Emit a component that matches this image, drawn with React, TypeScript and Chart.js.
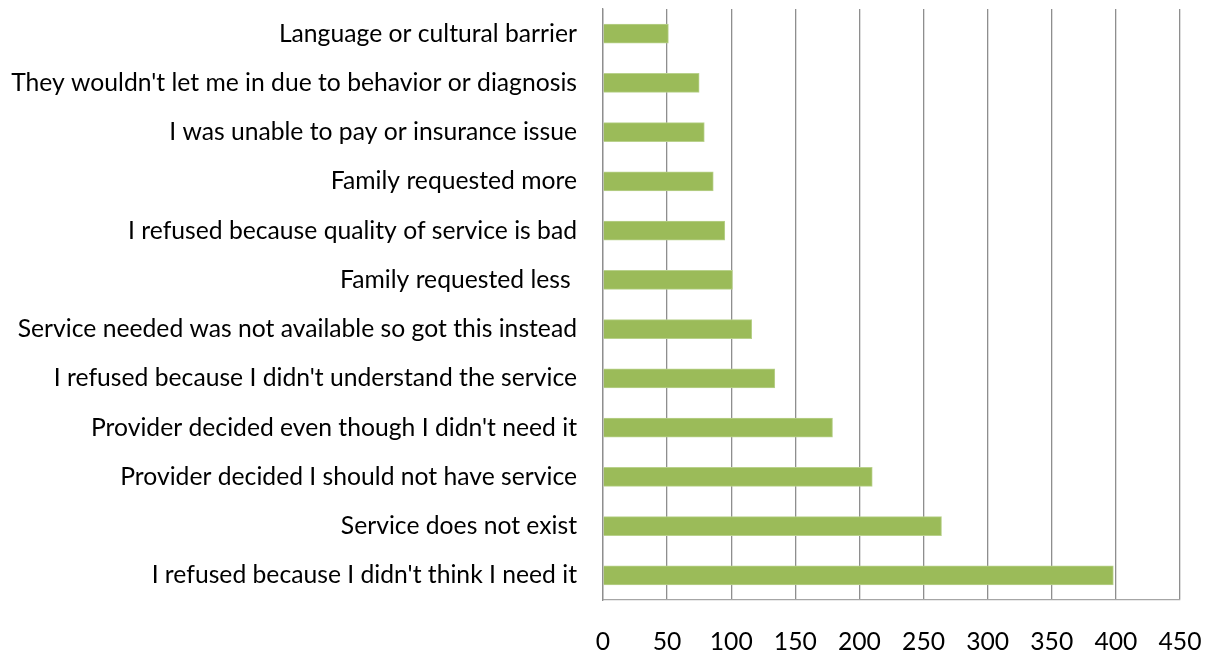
import React, { useEffect, useRef } from "react";
import { Chart, registerables } from "chart.js";

Chart.register(...registerables);

const categories: string[] = [
  "Language or cultural barrier",
  "They wouldn't let me in due to behavior or diagnosis",
  "I was unable to pay or insurance issue",
  "Family requested more",
  "I refused because quality of service is bad",
  "Family requested less ",
  "Service needed was not available so got this instead",
  "I refused because I didn't understand the service",
  "Provider decided even though I didn't need it",
  "Provider decided I should not have service",
  "Service does not exist",
  "I refused because I didn't think I need it",
];

const counts: number[] = [51, 75, 79, 86, 95, 101, 116, 134, 179, 210, 264, 398];

const xMin = 0;
const xMax = 450;
const xStep = 50;

export default function App() {
  const canvasRef = useRef<HTMLCanvasElement | null>(null);

  useEffect(() => {
    document.body.style.margin = "0";
    const canvas = canvasRef.current;
    if (!canvas) return;
    const font = { family: "Lato, 'Open Sans', sans-serif", size: 24.7 };
    const chart = new Chart(canvas, {
      type: "bar",
      data: {
        labels: categories,
        datasets: [
          {
            label: "Count",
            data: counts,
            backgroundColor: "#9BBB59",
            borderColor: "#B9D18C",
            borderWidth: 1,
            barThickness: 19,
          },
        ],
      },
      options: {
        indexAxis: "y",
        animation: false,
        responsive: false,
        maintainAspectRatio: false,
        layout: { padding: { top: 9, right: 26, left: 0, bottom: 0 } },
        plugins: {
          legend: { display: false },
          tooltip: { enabled: false },
        },
        scales: {
          x: {
            min: xMin,
            max: xMax,
            ticks: {
              stepSize: xStep,
              color: "#000",
              font,
              padding: 27,
              maxRotation: 0,
            },
            grid: {
              color: "#8E8E8E",
              lineWidth: 1.3,
              drawTicks: false,
            },
            border: { display: true, color: "#A6A6A6", width: 1.3 },
            afterFit: (scale: any) => {
              scale.height = 52;
              scale.paddingLeft = 0;
              scale.paddingRight = 0;
            },
          },
          y: {
            ticks: {
              color: "#000",
              font,
              padding: 26,
              autoSkip: false,
            },
            grid: { display: false, drawTicks: false },
            border: { display: true, color: "#8E8E8E", width: 1.3 },
            afterFit: (scale: any) => {
              scale.width = 603;
              scale.paddingTop = 0;
              scale.paddingBottom = 0;
            },
          },
        },
      },
    });
    return () => chart.destroy();
  }, []);

  return (
    <div style={{ position: "absolute", left: 0, top: 0, width: 1206, height: 652, background: "#fff" }}>
      <canvas ref={canvasRef} width={1206} height={652} style={{ display: "block" }} />
    </div>
  );
}
